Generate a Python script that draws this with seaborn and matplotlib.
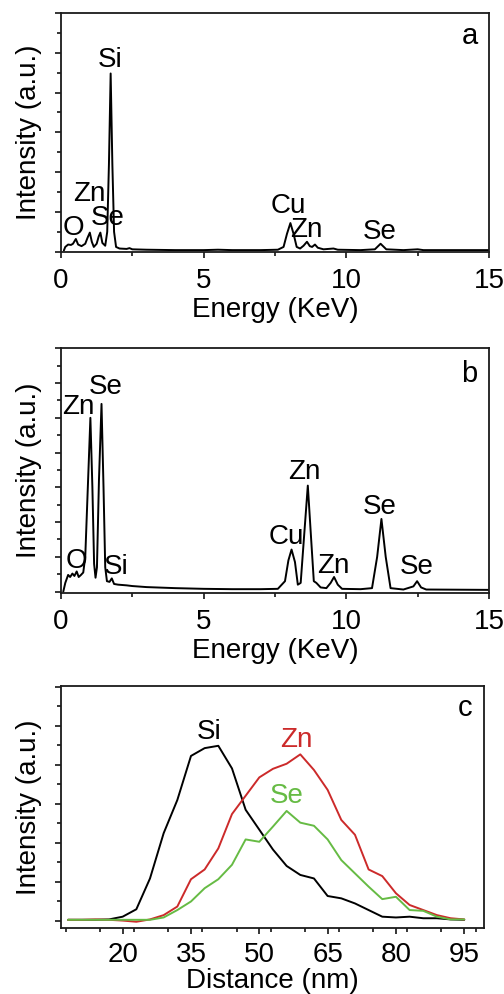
import numpy as np
import pandas as pd
import matplotlib
matplotlib.use("Agg")
import matplotlib.pyplot as plt
from matplotlib.ticker import MultipleLocator, NullFormatter
import seaborn as sns

# ---------------- data ----------------
# Panel a: EDS spectrum (trace vertices)
energy_a = [0.10, 0.15, 0.25, 0.35, 0.42, 0.52, 0.60, 0.72, 0.85, 0.93, 1.01, 1.08,
            1.15, 1.25, 1.32, 1.38, 1.45, 1.55, 1.62, 1.68, 1.74, 1.80, 1.86, 1.93,
            2.05, 2.30, 2.40, 2.50, 3.00, 4.00, 5.00, 5.50, 6.00, 7.00, 7.60, 7.80,
            7.92, 8.04, 8.15, 8.26, 8.38, 8.50, 8.62, 8.72, 8.80, 8.90, 9.00, 9.20,
            9.55, 9.70, 10.50, 11.00, 11.20, 11.40, 12.00, 12.50, 12.70, 15.00]
intens_a = [0.03, 0.12, 0.18, 0.17, 0.20, 0.32, 0.18, 0.14, 0.20, 0.35, 0.48, 0.25,
            0.12, 0.20, 0.38, 0.48, 0.22, 0.15, 0.50, 2.20, 4.48, 2.20, 0.50, 0.12,
            0.08, 0.07, 0.09, 0.06, 0.05, 0.04, 0.04, 0.05, 0.04, 0.04, 0.05, 0.12,
            0.45, 0.72, 0.45, 0.12, 0.08, 0.15, 0.25, 0.14, 0.12, 0.18, 0.10, 0.06,
            0.08, 0.05, 0.04, 0.06, 0.20, 0.06, 0.04, 0.06, 0.04, 0.04]

# Panel b: EDS spectrum
energy_b = [0.08, 0.15, 0.25, 0.32, 0.40, 0.47, 0.55, 0.62, 0.70, 0.78, 0.85, 0.94,
            1.03, 1.10, 1.16, 1.21, 1.26, 1.33, 1.42, 1.49, 1.55, 1.61, 1.70, 1.78,
            1.86, 2.00, 2.30, 2.50, 3.00, 4.00, 5.00, 6.00, 7.00, 7.60, 7.85, 7.97,
            8.08, 8.20, 8.30, 8.40, 8.52, 8.65, 8.76, 8.86, 8.95, 9.10, 9.30, 9.45,
            9.57, 9.70, 9.85, 10.50, 10.90, 11.08, 11.23, 11.38, 11.55, 12.00, 12.35,
            12.48, 12.62, 12.80, 15.00]
intens_b = [0.00, 0.25, 0.48, 0.42, 0.52, 0.45, 0.58, 0.42, 0.48, 0.55, 1.00, 3.00,
            5.00, 3.00, 0.80, 0.40, 0.70, 3.20, 5.40, 3.00, 0.70, 0.30, 0.28, 0.38,
            0.22, 0.20, 0.18, 0.16, 0.13, 0.10, 0.08, 0.07, 0.07, 0.08, 0.30, 0.90,
            1.21, 0.85, 0.20, 0.25, 1.60, 3.05, 1.60, 0.30, 0.25, 0.12, 0.10, 0.25,
            0.42, 0.20, 0.08, 0.07, 0.10, 1.00, 2.09, 1.00, 0.10, 0.06, 0.15,
            0.30, 0.12, 0.06, 0.05]

# Panel c: line-scan profiles
distance = [8, 11, 14, 17, 20, 23, 26, 29, 32, 35, 38, 41, 44, 47, 50,
            53, 56, 59, 62, 65, 68, 71, 74, 77, 80, 83, 86, 89, 92, 95]
si_line = [0.03, 0.03, 0.03, 0.04, 0.11, 0.30, 1.09, 2.25, 3.10, 4.23, 4.43, 4.49, 3.91, 2.85, 2.34,
           1.83, 1.41, 1.18, 1.09, 0.64, 0.58, 0.45, 0.28, 0.11, 0.09, 0.11, 0.07, 0.07, 0.04, 0.03]
zn_line = [0.03, 0.03, 0.04, 0.03, 0.01, -0.02, 0.04, 0.15, 0.37, 1.07, 1.32, 1.86, 2.74, 3.21, 3.68,
           3.90, 4.03, 4.27, 3.87, 3.36, 2.59, 2.21, 1.32, 1.15, 0.71, 0.41, 0.28, 0.15, 0.07, 0.04]
se_line = [0.03, 0.03, 0.03, 0.03, 0.03, 0.03, 0.03, 0.09, 0.28, 0.50, 0.84, 1.07, 1.44, 2.09, 2.03,
           2.42, 2.82, 2.52, 2.44, 2.09, 1.56, 1.22, 0.88, 0.56, 0.62, 0.28, 0.26, 0.11, 0.04, 0.04]

# annotations: (text, x, y)
labels_a = [("O", 0.43, 0.59), ("Zn", 0.99, 1.45), ("Se", 1.62, 0.84), ("Si", 1.72, 4.83),
            ("Cu", 7.98, 1.15), ("Zn", 8.58, 0.55), ("Se", 11.18, 0.50)]
labels_b = [("Zn", 0.60, 5.30), ("Se", 1.56, 5.90), ("O", 0.53, 0.89), ("Si", 1.95, 0.72),
            ("Cu", 7.91, 1.56), ("Zn", 8.52, 3.45), ("Zn", 9.55, 0.74),
            ("Se", 11.16, 2.43), ("Se", 12.47, 0.70)]
energy_ticks = [0, 5, 10, 15]
distance_ticks = [20, 35, 50, 65, 80, 95]

RED = "#cc2a2a"
GREEN = "#66bb44"

# ---------------- style ----------------
sns.set_theme(style="ticks")
plt.rcParams["font.family"] = ["Liberation Sans", "DejaVu Sans"]
plt.rcParams.update({
    "axes.linewidth": 1.3,
    "xtick.direction": "out", "ytick.direction": "out",
    "xtick.major.size": 4.5, "ytick.major.size": 4.5,
    "xtick.minor.size": 2.7, "ytick.minor.size": 2.7,
    "xtick.major.width": 1.1, "ytick.major.width": 1.1,
    "xtick.minor.width": 1.1, "ytick.minor.width": 1.1,
    "xtick.color": "black", "ytick.color": "black",
    "axes.edgecolor": "#1a1a1a",
    "text.color": "black", "axes.labelcolor": "black",
})

FS = 20
fig = plt.figure(figsize=(5.04, 9.94), dpi=100)
W, H = 504, 994

def add_ax(l, r, t, b):
    return fig.add_axes([l / W, 1 - b / H, (r - l) / W, (b - t) / H])

ax_a = add_ax(61, 489, 13, 252.3)
ax_b = add_ax(61, 489, 348.3, 593)
ax_c = add_ax(61, 484.3, 685.7, 928)

df_a = pd.DataFrame({"Energy": energy_a, "Intensity": intens_a})
df_b = pd.DataFrame({"Energy": energy_b, "Intensity": intens_b})
sns.lineplot(data=df_a, x="Energy", y="Intensity", ax=ax_a, color="black",
             lw=1.4, sort=False, estimator=None)
sns.lineplot(data=df_b, x="Energy", y="Intensity", ax=ax_b, color="black",
             lw=1.4, sort=False, estimator=None)

df_c = pd.DataFrame({"Distance": distance * 3,
                     "Intensity": si_line + zn_line + se_line,
                     "Element": ["Si"] * len(distance) + ["Zn"] * len(distance) + ["Se"] * len(distance)})
sns.lineplot(data=df_c, x="Distance", y="Intensity", hue="Element",
             palette={"Si": "black", "Zn": RED, "Se": GREEN}, ax=ax_c,
             lw=1.4, sort=False, estimator=None, legend=False)

for ax, ymax, ybot in [(ax_a, 6.0, -0.015), (ax_b, 7.0, -0.04)]:
    ax.set_xlim(0, 15)
    ax.set_ylim(ybot, ymax)
    ax.set_xticks(energy_ticks)
    ax.xaxis.set_minor_locator(MultipleLocator(2.5))
    ax.set_xlabel("Energy (KeV)", fontsize=FS, labelpad=2)
    ax.tick_params(axis="x", which="major", labelsize=FS, pad=7)

ax_c.set_xlim(6.46, 99.4)
ax_c.set_ylim(-0.18, 6.03)
ax_c.set_xticks(distance_ticks)
ax_c.xaxis.set_minor_locator(MultipleLocator(7.5))
ax_c.set_xlabel("Distance (nm)", fontsize=FS, labelpad=0)
ax_c.tick_params(axis="x", which="major", labelsize=FS, pad=5.5)

for ax in (ax_a, ax_b, ax_c):
    ax.yaxis.set_major_locator(MultipleLocator(1))
    ax.yaxis.set_minor_locator(MultipleLocator(0.5))
    ax.yaxis.set_major_formatter(NullFormatter())
    ax.set_ylabel("Intensity (a.u.)", fontsize=FS, labelpad=6)
    for s in ax.spines.values():
        s.set_visible(True)

for txt, x, y in labels_a:
    ax_a.text(x, y, txt, fontsize=FS, ha="center", va="center")
for txt, x, y in labels_b:
    ax_b.text(x, y, txt, fontsize=FS, ha="center", va="center")
ax_c.text(39.0, 4.85, "Si", fontsize=FS, ha="center", va="center", color="black")
ax_c.text(58.2, 4.63, "Zn", fontsize=FS, ha="center", va="center", color=RED)
ax_c.text(56.1, 3.2, "Se", fontsize=FS, ha="center", va="center", color=GREEN)

ax_a.text(0.956, 0.904, "a", transform=ax_a.transAxes, fontsize=21, ha="center", va="center")
ax_b.text(0.954, 0.893, "b", transform=ax_b.transAxes, fontsize=21, ha="center", va="center")
ax_c.text(0.955, 0.907, "c", transform=ax_c.transAxes, fontsize=21, ha="center", va="center")

fig.savefig("out.png", dpi=100, facecolor="white")
